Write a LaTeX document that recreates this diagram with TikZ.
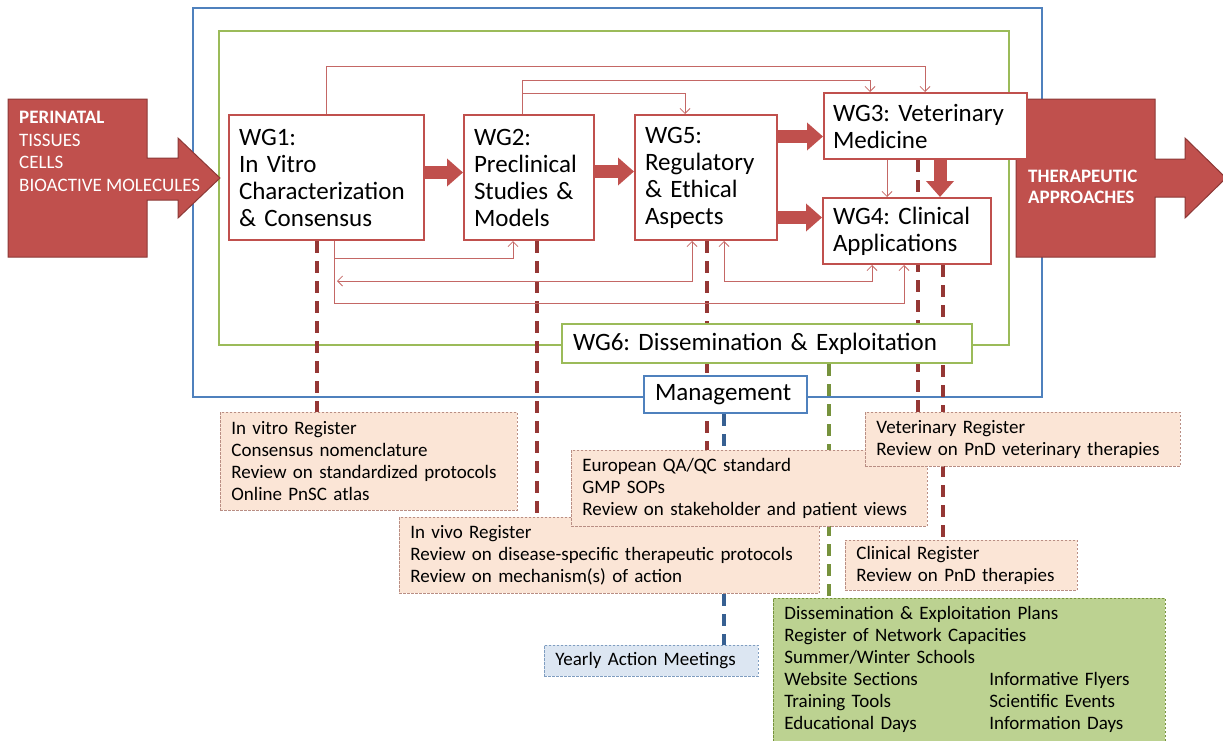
\documentclass[tikz,border=0pt]{standalone}
\usepackage{fontspec}
\setmainfont{Carlito}
\frenchspacing
\usetikzlibrary{arrows.meta}
\definecolor{wgred}{HTML}{C0504D}
\definecolor{wgdark}{HTML}{8C3836}
\definecolor{thinred}{HTML}{C46765}
\definecolor{dashred}{HTML}{953735}
\definecolor{frameblue}{HTML}{4F81BD}
\definecolor{framegreen}{HTML}{9BBB59}
\definecolor{peach}{HTML}{FBE5D6}
\definecolor{peachline}{HTML}{B98E84}
\definecolor{dissgreen}{HTML}{BCD291}
\definecolor{dissline}{HTML}{76923C}
\definecolor{meetblue}{HTML}{DCE6F2}
\definecolor{meetline}{HTML}{7F9DC0}
\definecolor{bluedash}{HTML}{376092}
\pgfdeclarelayer{back}
\pgfdeclarelayer{background}
\pgfsetlayers{back,background,main}

\begin{document}
\begin{tikzpicture}[
    x=1pt, y=-1pt,
    wg node/.style={draw=wgred, line width=2pt, fill=white, anchor=north west, align=left,
      inner xsep=10pt, inner ysep=0pt, font=\fontsize{25}{27}\selectfont},
    frame node/.style={draw=#1, line width=2pt, fill=white, anchor=north west, align=left,
      inner xsep=11pt, inner ysep=0pt, font=\fontsize{25}{27}\selectfont},
    output node/.style={draw=peachline, line width=0.8pt, dash pattern=on 2.5pt off 1.5pt, fill=peach,
      anchor=north west, align=left, inner xsep=11pt, inner ysep=0pt, font=\fontsize{19}{22}\selectfont},
    arrow text/.style={text=white, align=left, inner sep=0pt, font=\fontsize{19}{22.5}\selectfont},
    big arrow/.style={fill=wgred, draw=wgdark, line width=1pt},
    fat arrow/.style={draw=wgred, line width=13pt, -{Triangle[length=16pt,width=27pt]}},
    feedback/.style={draw=thinred, line width=0.8pt, -{Straight Barb[length=5pt,width=10pt]}},
    feedback both/.style={feedback, {Straight Barb[length=5pt,width=10pt]}-{Straight Barb[length=5pt,width=10pt]}},
    deliverable/.style={line width=4pt, dash pattern=on 12pt off 8pt}]

  \useasboundingbox (0,0) rectangle (1223,740);

  % working groups
  \node[wg node, text width=175pt, minimum height=125pt] (WG1) at (228,114) {WG1:\\In Vitro\\Characterization\\\& Consensus};
  \node[wg node, text width=110pt, minimum height=125pt] (WG2) at (463,114) {WG2:\\Preclinical\\Studies \&\\Models};
  \node[wg node, text width=122pt, minimum height=125pt] (WG5) at (634,114) {WG5:\\Regulatory\\\& Ethical\\Aspects};
  \node[wg node, text width=185pt, minimum height=66pt, inner xsep=9pt] (WG3) at (823,92) {WG3: Veterinary\\Medicine};
  \node[wg node, text width=148pt, minimum height=66pt] (WG4) at (822,197) {WG4: Clinical\\Applications};
  \node[frame node=framegreen, text width=388pt, minimum height=39pt] (WG6) at (561,323) {WG6: Dissemination \& Exploitation};
  \node[frame node=frameblue, text width=141pt, minimum height=37pt] (Management) at (643,375) {Management};

  % outputs
  \node[output node, text width=275pt, minimum height=98pt] (InVitroRegister) at (220,412)
    {In vitro Register\\Consensus nomenclature\\Review on standardized protocols\\Online PnSC atlas};
  \node[output node, text width=398pt, minimum height=76pt] (InVivoRegister) at (399,517)
    {In vivo Register\\Review on disease-specific therapeutic protocols\\Review on mechanism(s) of action};
  \node[output node, text width=334pt, minimum height=76pt] (QualityStandard) at (571,450)
    {European QA/QC standard\\GMP SOPs\\Review on stakeholder and patient views};
  \node[output node, text width=293pt, minimum height=54pt] (VeterinaryRegister) at (865,412)
    {Veterinary Register\\Review on PnD veterinary therapies};
  \node[output node, text width=210pt, minimum height=50pt] (ClinicalRegister) at (845,540)
    {Clinical Register\\Review on PnD therapies};
  \node[output node, fill=meetblue, draw=meetline, text width=192pt, minimum height=31pt] (Meetings) at (544,645)
    {Yearly Action Meetings};
  \node[output node, fill=dissgreen, draw=dissline, text width=370pt, minimum height=143pt] (Dissemination) at (773,598)
    {\begin{tabular}{@{}p{205pt}@{}l@{}}
      \multicolumn{2}{@{}l@{}}{Dissemination \& Exploitation Plans}\\
      \multicolumn{2}{@{}l@{}}{Register of Network Capacities}\\
      \multicolumn{2}{@{}l@{}}{Summer/Winter Schools}\\
      Website Sections & Informative Flyers\\
      Training Tools & Scientific Events\\
      Educational Days & Information Days
    \end{tabular}};

  % big input and output arrows
  \node[arrow text, anchor=north west] (Perinatal) at (19,111) {\textbf{PERINATAL}\\TISSUES\\CELLS\\BIOACTIVE MOLECULES};
  \node[arrow text, font=\bfseries\fontsize{19}{21}\selectfont, anchor=west] (Therapeutic) at (1028,187) {THERAPEUTIC\\APPROACHES};

  \begin{pgfonlayer}{back}
    \draw[frameblue, line width=2pt] (193,8) rectangle (1042,397);
    \draw[framegreen, line width=2pt] (219,31) rectangle (1009,345);
    \draw[big arrow] (8,99) -- (147,99) -- (147,158) -- (178,158) -- (178,138) -- (220,178)
      -- (178,218) -- (178,200) -- (147,200) -- (147,257) -- (8,257) -- cycle;
    \draw[big arrow] (1016,99) -- (1155,99) -- (1155,159) -- (1185,159) -- (1185,138) -- (1226,178)
      -- (1185,218) -- (1185,197) -- (1155,197) -- (1155,257) -- (1016,257) -- cycle;
  \end{pgfonlayer}

  \begin{pgfonlayer}{background}
    % deliverables
    \draw[deliverable, draw=dashred] ([xshift=89pt]WG1.south west) -- ([xshift=89pt]WG1.south west |- InVitroRegister.north);
    \draw[deliverable, draw=dashred] ([xshift=74pt]WG2.south west) -- ([xshift=74pt]WG2.south west |- InVivoRegister.north);
    \draw[deliverable, draw=dashred] ([xshift=73pt]WG5.south west) -- ([xshift=73pt]WG5.south west |- QualityStandard.north);
    \draw[deliverable, draw=dashred] ([xshift=95pt]WG3.south west) -- ([xshift=95pt]WG3.south west |- VeterinaryRegister.north);
    \draw[deliverable, draw=dashred] ([xshift=121pt]WG4.south west) -- ([xshift=121pt]WG4.south west |- ClinicalRegister.north);
    \draw[deliverable, draw=dissline] ([xshift=268pt]WG6.south west) -- ([xshift=268pt]WG6.south west |- Dissemination.north);
    \draw[deliverable, draw=bluedash] ([xshift=81pt]Management.south west) -- ([xshift=81pt]Management.south west |- Meetings.north);

    % feedback between the groups
    \draw[feedback] ([xshift=98pt]WG1.north west) -- ++(0,-48) -| ([xshift=102pt]WG3.north west);
    \draw[feedback] ([xshift=59pt]WG2.north west) -- ++(0,-34) -| ([xshift=47pt]WG3.north west);
    \draw[feedback] ([xshift=59pt]WG2.north west) -- ++(0,-21) -| ([xshift=51pt]WG5.north west);
    \draw[feedback] ([xshift=64pt]WG3.south west) -- ([xshift=65pt]WG4.north west);
    \draw[feedback] ([xshift=106pt]WG1.south west) -- ++(0,17) -| ([xshift=50pt]WG2.south west);
    \draw[feedback both] ([xshift=58pt]WG5.south west) -- ++(0,40) -- ++(-355,0);
    \draw[feedback] ([xshift=106pt]WG1.south west) -- ++(0,62) -| ([xshift=82pt]WG4.south west);
    \draw[feedback both] ([xshift=90pt]WG5.south west) -- ++(0,40) -| ([xshift=50pt]WG4.south west);
  \end{pgfonlayer}

  % main flow
  \draw[fat arrow] ([yshift=5pt]WG1.east) -- ([yshift=5pt]WG2.west);
  \draw[fat arrow] ([yshift=6pt]WG2.east) -- ([yshift=6pt]WG5.west);
  \draw[fat arrow] ([yshift=41pt]WG5.east) -- ([yshift=41pt]WG5.east -| WG3.west);
  \draw[fat arrow] ([yshift=-40pt]WG5.east) -- ([yshift=-40pt]WG5.east -| WG4.west);
  \draw[fat arrow] ([xshift=117pt]WG3.south west) -- ([xshift=117pt]WG3.south west |- WG4.north);

\end{tikzpicture}
\end{document}
